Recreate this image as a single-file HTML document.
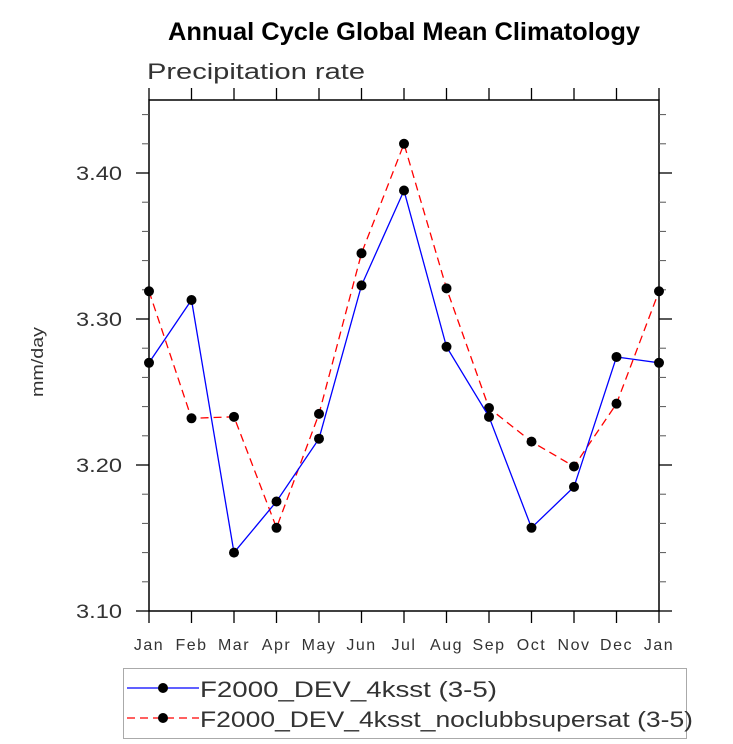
<!DOCTYPE html>
<html><head><meta charset="utf-8"><style>
html,body{margin:0;padding:0;background:#fff;}
svg{display:block;font-family:"Liberation Sans",sans-serif;}
</style></head><body>
<svg id="chart" width="733" height="744">
<text x="168" y="40" textLength="472" lengthAdjust="spacingAndGlyphs" font-size="25" font-weight="bold">Annual Cycle Global Mean Climatology</text>
<text x="147" y="79" textLength="218" lengthAdjust="spacingAndGlyphs" font-size="22" fill="#333">Precipitation rate</text>
<text transform="translate(43,362) rotate(-90)" text-anchor="middle" font-size="17" fill="#333" textLength="70" lengthAdjust="spacingAndGlyphs">mm/day</text>
<g id="axes"></g>
<g id="series"></g>
<g>
<rect x="123.5" y="668.5" width="563" height="70" fill="none" stroke="#aaa"/>
<g>
<line x1="127" y1="688" x2="199" y2="688" stroke="#00f" stroke-width="1.3"/>
<circle cx="163" cy="688" r="5" fill="#000"/>
<text x="200" y="697" font-size="22" fill="#333" textLength="297" lengthAdjust="spacingAndGlyphs">F2000_DEV_4ksst (3-5)</text></g>
<g>
<line x1="127" y1="718" x2="199" y2="718" stroke="#f00" stroke-width="1.3" stroke-dasharray="8,5"/>
<circle cx="163" cy="718" r="5" fill="#000"/>
<text x="200" y="727" font-size="22" fill="#333" textLength="493" lengthAdjust="spacingAndGlyphs">F2000_DEV_4ksst_noclubbsupersat (3-5)</text></g>
</g>
</svg>
<script>
const months = ["Jan","Feb","Mar","Apr","May","Jun","Jul","Aug","Sep","Oct","Nov","Dec","Jan"];
const blueValues = [3.270,3.313,3.140,3.175,3.218,3.323,3.388,3.281,3.233,3.157,3.185,3.274,3.270];
const redValues = [3.319,3.232,3.233,3.157,3.235,3.345,3.420,3.321,3.239,3.216,3.199,3.242,3.319];
const yTicks = [3.10,3.20,3.30,3.40];
const yTickLabels = ["3.10","3.20","3.30","3.40"];
const L=149,R=659,T=100,B=611,yMin=3.10,yMax=3.45;
const xs=i=>L+(R-L)*i/(months.length-1);
const ys=v=>B-(B-T)*(v-yMin)/(yMax-yMin);
const NS="http://www.w3.org/2000/svg";
const ax=document.getElementById('axes'), se=document.getElementById('series');
function mk(tag,attrs,parent){const e=document.createElementNS(NS,tag);for(const k in attrs)e.setAttribute(k,attrs[k]);parent.appendChild(e);return e;}
const frame=mk('rect',{x:L,y:T,width:R-L,height:B-T,fill:'none',stroke:'#000','stroke-width':1.5},ax);


months.forEach((m,i)=>{
  const x=xs(i);
  mk('line',{x1:x,y1:B,x2:x,y2:B+12,stroke:'#000','stroke-width':1.3},ax);
  mk('line',{x1:x,y1:T,x2:x,y2:T-12,stroke:'#000','stroke-width':1.3},ax);
  const t=mk('text',{x:x,y:B+39,'text-anchor':'middle','font-size':16,fill:'#333','letter-spacing':'1.5'},ax);
  t.textContent=m;
  
  
});
for(let v=yMin;v<=yMax+1e-9;v+=0.02){
  const y=ys(v);
  mk('line',{x1:L,y1:y,x2:L-7,y2:y,stroke:'#555','stroke-width':1},ax);
  mk('line',{x1:R,y1:y,x2:R+7,y2:y,stroke:'#555','stroke-width':1},ax);
}
yTicks.forEach((v,i)=>{
  const y=ys(v);
  mk('line',{x1:L,y1:y,x2:L-13,y2:y,stroke:'#000','stroke-width':1.3},ax);
  mk('line',{x1:R,y1:y,x2:R+13,y2:y,stroke:'#000','stroke-width':1.3},ax);
  const t=mk('text',{x:76,y:y+7,'font-size':19,fill:'#333',textLength:46,lengthAdjust:'spacingAndGlyphs'},ax);
  t.textContent=yTickLabels[i];
  
  
});
function series(vals,color,dash,name){
  const p=mk('polyline',{points:vals.map((v,i)=>xs(i)+','+ys(v)).join(' '),fill:'none',stroke:color,'stroke-width':1.3,'stroke-dasharray':dash},se);
  
  
  vals.forEach((v,i)=>{
    const c=mk('circle',{cx:xs(i),cy:ys(v),r:5,fill:'#000'},se);
    
    
  });
}
series(redValues,'#f00','8,5','red-series');
series(blueValues,'#00f','none','blue-series');
</script>
</body></html>
